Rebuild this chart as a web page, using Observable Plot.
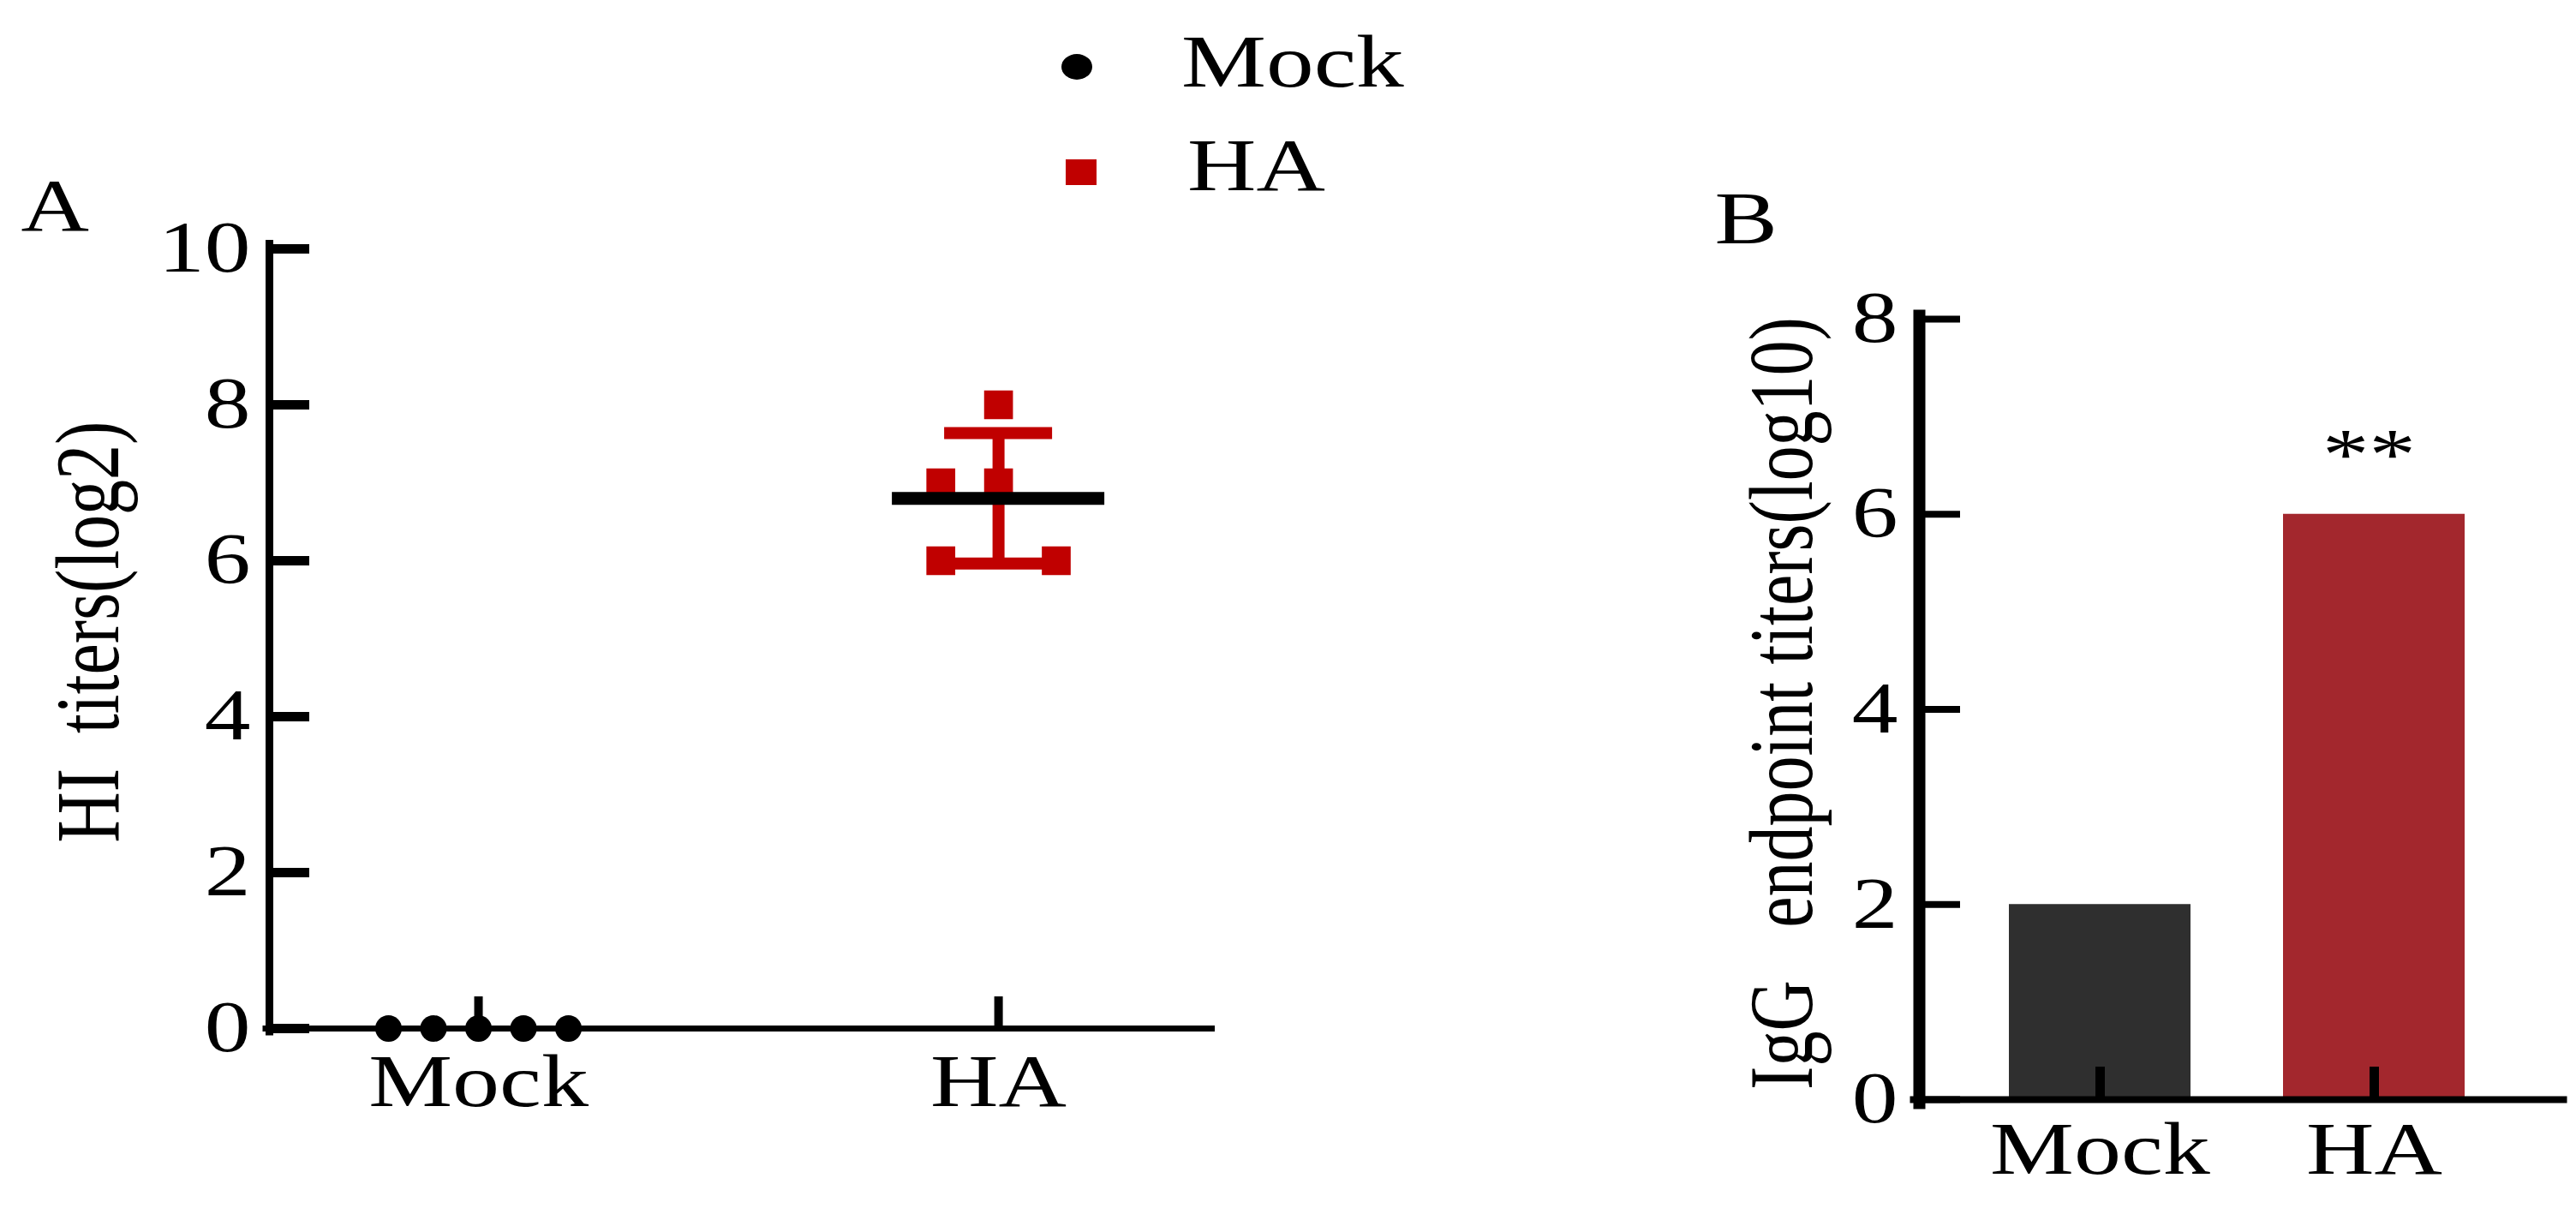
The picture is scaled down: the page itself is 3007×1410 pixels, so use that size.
<!DOCTYPE html>
<html>
<head>
<meta charset="utf-8">
<script src="https://cdn.jsdelivr.net/npm/d3@7"></script>
<script src="https://cdn.jsdelivr.net/npm/@observablehq/plot@0.6"></script>
<style>
html, body { margin: 0; padding: 0; background: #fff; }
#fig { position: relative; width: 3007px; height: 1410px; overflow: hidden; background: #fff; }
#fig > svg { position: absolute; top: 0; }
#fig text { white-space: pre; }
</style>
</head>
<body>
<div id="fig"></div>
<script>
// ---------------- data ----------------
const groups = ["Mock", "HA"];
// Panel A: HI titers (log2), individual animals
const mockHI = [0, 0, 0, 0, 0];
const mockSlots = [-2, -1, 0, 1, 2];   // scatter arrangement order
const haHI = [8, 7, 7, 6, 6];
const haSlots = [0, -1, 0, -1, 1];
const hiTicks = [0, 2, 4, 6, 8, 10];
// Panel B: IgG endpoint titers (log10)
const igG = [2, 6];
const igGTicks = [0, 2, 4, 6, 8];
const signif = ["", "**"];
const barColors = ["#2f2f2f", "#a3272d"];
const legendLabels = ["Mock", "HA"];

// ---------------- styling ----------------
const FONT = "'Liberation Serif','Times New Roman',serif";
const STRETCH = 1.28;          // horizontal text stretch seen in the reference
const RED = "#c00000";

function stretchText(svg, s) {
  for (const t of svg.querySelectorAll("text")) {
    const tr = t.getAttribute("transform") || "";
    const m = tr.match(/^\s*translate\([^)]*\)/);
    if (m) t.setAttribute("transform", `${m[0]} scale(${s},1) ${tr.slice(m[0].length)}`);
    else {
      const x = parseFloat(t.getAttribute("x")) || 0;
      t.setAttribute("transform", `translate(${x},0) scale(${s},1) translate(${-x},0) ${tr}`);
    }
  }
}

const fig = document.getElementById("fig");

// ---------------- Panel A ----------------
const xDomA = [0.598, 2.41];
const MOCK_STEP = 0.0865, HA_STEP = 0.111;
const ptsA = [
  ...mockHI.map((v, i) => ({g: 1, x: 1 + mockSlots[i] * MOCK_STEP, v})),
  ...haHI.map((v, i) => ({g: 2, x: 2 + haSlots[i] * HA_STEP, v}))
];
const haMean = d3.mean(haHI), haSD = d3.deviation(haHI);
const summaryA = [{g: 2, mean: haMean, lo: haMean - haSD, hi: haMean + haSD}];

const A = Plot.plot({
  width: 1500, height: 1410,
  marginLeft: 314, marginRight: 86, marginTop: 290, marginBottom: 210,
  style: {fontFamily: FONT, background: "transparent", overflow: "visible", color: "#000"},
  x: {domain: xDomA, axis: null},
  y: {domain: [0, 10], axis: null},
  marks: [
    // SD error bar
    Plot.ruleX(summaryA, {x: "g", y1: "lo", y2: "hi", stroke: RED, strokeWidth: 14}),
    Plot.ruleY(summaryA, {y: "hi", x1: "g", x2: "g", insetLeft: -63, insetRight: -63, stroke: RED, strokeWidth: 14}),
    Plot.ruleY(summaryA, {y: "lo", x1: "g", x2: "g", insetLeft: -63, insetRight: -63, stroke: RED, strokeWidth: 14}),
    // axes
    Plot.frame({anchor: "left", stroke: "#000", strokeWidth: 9, insetTop: -6, insetBottom: -3.5}),
    Plot.frame({anchor: "bottom", stroke: "#000", strokeWidth: 7, insetLeft: -4.5}),
    Plot.ruleY(hiTicks, {y: d => d, x1: xDomA[0], x2: xDomA[0], insetRight: -47, stroke: "#000", strokeWidth: 11}),
    Plot.ruleX([1, 2], {x: d => d, y1: 0, y2: 0, insetBottom: 37, stroke: "#000", strokeWidth: 10}),
    Plot.text(hiTicks, {y: d => d, x: xDomA[0], text: d => String(d), textAnchor: "end", dx: -22, fontSize: 84, fill: "#000"}),
    Plot.text([1, 2], {x: d => d, y: 0, text: d => groups[d - 1], lineAnchor: "top", dy: 29, fontSize: 86, fill: "#000"}),
    // points
    Plot.dot(ptsA.filter(d => d.g === 1), {x: "x", y: "v", r: 15.5, fill: "#000", stroke: null}),
    Plot.dot(ptsA.filter(d => d.g === 2), {x: "x", y: "v", r: 19, symbol: "square", fill: RED, stroke: null}),
    // mean line
    Plot.ruleY(summaryA, {y: "mean", x1: "g", x2: "g", insetLeft: -124, insetRight: -124, stroke: "#000", strokeWidth: 15}),
    // labels
    Plot.text(["HI  titers(log2)"], {frameAnchor: "left", textAnchor: "middle", lineAnchor: "middle", rotate: -90, dx: -210, dy: -8, fontSize: 82, fill: "#000"}),
    Plot.text(["A"], {frameAnchor: "top-left", textAnchor: "start", lineAnchor: "bottom", dx: -290, dy: -22, fontSize: 86, fill: "#000"})
  ]
});
stretchText(A, STRETCH);
A.style.left = "0px";
fig.appendChild(A);

// ---------------- Panel B ----------------
const WB = 1507, MLB = 740, MRB = 15;
const frameWB = WB - MLB - MRB;
const dataB = groups.map((g, i) => ({g, v: igG[i], c: barColors[i], s: signif[i]}));

const B = Plot.plot({
  width: WB, height: 1410,
  marginLeft: MLB, marginRight: MRB, marginTop: 372, marginBottom: 127,
  style: {fontFamily: FONT, background: "transparent", overflow: "visible", color: "#000"},
  x: {domain: groups, axis: null, paddingInner: 0.336, paddingOuter: 0.34, align: 0.48},
  y: {domain: [0, 8], axis: null},
  color: {type: "identity"},
  marks: [
    Plot.barY(dataB, {x: "g", y: "v", fill: "c"}),
    Plot.frame({anchor: "left", stroke: "#000", strokeWidth: 14, insetTop: -4, insetBottom: -4}),
    Plot.frame({anchor: "bottom", stroke: "#000", strokeWidth: 8, insetLeft: -7}),
    Plot.ruleY(igGTicks, {y: d => d, insetRight: frameWB - 48, stroke: "#000", strokeWidth: 8}),
    Plot.ruleX(groups, {x: d => d, y1: 0, y2: 0, insetBottom: 38, stroke: "#000", strokeWidth: 11}),
    Plot.text(igGTicks, {y: d => d, frameAnchor: "left", text: d => String(d), textAnchor: "end", dx: -25, fontSize: 84, fill: "#000"}),
    Plot.text(groups, {x: d => d, y: 0, text: d => d, lineAnchor: "top", dy: 25, fontSize: 86, fill: "#000"}),
    Plot.text(dataB, {x: "g", y: "v", text: "s", dy: -68, dx: -6, fontSize: 85, fill: "#000"}),
    Plot.text(["IgG   endpoint titers(log10)"], {frameAnchor: "left", textAnchor: "middle", lineAnchor: "middle", rotate: -90, dx: -159, dy: -7, fontSize: 82, fill: "#000"}),
    Plot.text(["B"], {frameAnchor: "top-left", textAnchor: "start", lineAnchor: "bottom", dx: -239, dy: -89, fontSize: 86, fill: "#000"})
  ]
});
stretchText(B, STRETCH);
B.style.left = "1500px";
fig.appendChild(B);

// ---------------- Legend (above panel A) ----------------
const leg = d3.create("svg")
  .attr("width", 3007).attr("height", 260)
  .style("left", "0px")
  .style("font-family", FONT);
const legRows = [
  {label: legendLabels[0], sym: "circle", cx: 1257, cy: 78, tx: 1379, ty: 101, fill: "#000"},
  {label: legendLabels[1], sym: "square", cx: 1262, cy: 201, tx: 1386, ty: 222, fill: RED}
];
for (const r of legRows) {
  if (r.sym === "circle") leg.append("ellipse").attr("cx", r.cx).attr("cy", r.cy).attr("rx", 18).attr("ry", 15).attr("fill", r.fill);
  else leg.append("rect").attr("x", r.cx - 18).attr("y", r.cy - 15).attr("width", 36).attr("height", 30).attr("fill", r.fill);
  leg.append("text").attr("transform", `translate(${r.tx},${r.ty}) scale(${STRETCH},1)`)
    .attr("font-size", 87).attr("fill", "#000").text(r.label);
}
fig.appendChild(leg.node());
</script>
</body>
</html>
